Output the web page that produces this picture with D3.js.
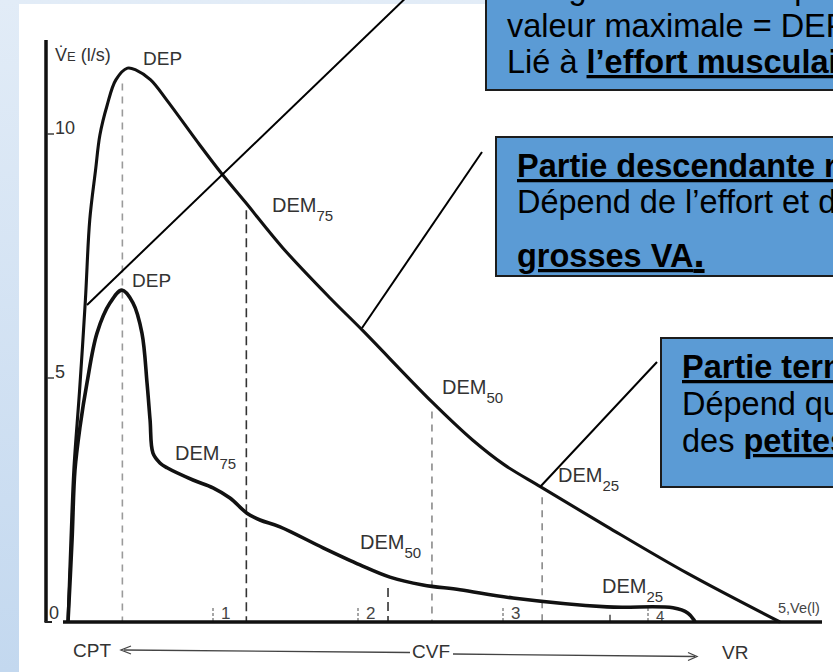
<!DOCTYPE html>
<html><head><meta charset="utf-8">
<script src="https://cdn.jsdelivr.net/npm/d3@7/dist/d3.min.js"></script>
<style>
html,body{margin:0;padding:0;background:#fff;}
svg{display:block;}
</style></head>
<body>
<svg id="c" width="833" height="672"></svg>
<script>
// ---------- DATA ----------
// Upper loop (normal subject): volume (l) vs expiratory flow (l/s)
const upperVolume = [0, 0.02, 0.04, 0.08, 0.12, 0.15, 0.19, 0.22, 0.27, 0.33, 0.41, 0.47, 0.57, 0.68, 0.91, 1.062, 1.221, 1.483, 1.807, 2.03, 2.51, 2.79, 3.01, 3.26, 3.72, 4.27, 4.91];
const upperFlow   = [0, 1.68, 3.11, 4.75, 6.6, 8.24, 9.26, 9.98, 10.59, 11.11, 11.35, 11.31, 11.11, 10.7, 9.77, 9.18, 8.61, 7.66, 6.64, 5.98, 4.51, 3.73, 3.22, 2.77, 1.95, 1.0, 0];
// Lower loop (obstructive pattern)
const lowerVolume = [0, 0.028, 0.048, 0.083, 0.131, 0.2, 0.29, 0.372, 0.448, 0.51, 0.545, 0.566, 0.586, 0.634, 0.683, 0.862, 1.0, 1.117, 1.234, 1.324, 1.462, 1.759, 2.014, 2.22, 2.448, 2.703, 3.069, 3.717, 4.172, 4.276, 4.317, 4.324];
const lowerFlow   = [0, 1.68, 3.11, 4.0, 4.9, 5.92, 6.54, 6.8, 6.54, 5.92, 4.9, 4.14, 3.46, 3.26, 3.16, 2.91, 2.75, 2.54, 2.23, 2.09, 1.95, 1.52, 1.17, 0.92, 0.76, 0.66, 0.49, 0.31, 0.29, 0.18, 0.04, 0];

// Markers (dashed verticals) : label, volume, flow at curve
const upperMarkerName   = ["DEP", "DEM", "DEM", "DEM"];
const upperMarkerSub    = ["", "75", "50", "25"];
const upperMarkerVolume = [0.375, 1.23, 2.51, 3.27];
const upperMarkerFlow   = [11.2, 8.6, 4.48, 2.72];
const lowerMarkerName   = ["DEP", "DEM", "DEM", "DEM"];
const lowerMarkerSub    = ["", "75", "50", "25"];
const lowerMarkerVolume = [0.375, 1.23, 2.207, 3.738];
const lowerMarkerFlow   = [6.75, 2.3, 0.86, 0.31];

const volumeTicks = [1, 2, 3, 4];
const flowTicks = [0, 5, 10];
const axisTitleY = "(l/s)";
const axisTitleX = "Ve(l)";
const bottomLabels = ["CPT", "CVF", "VR"];

// annotation boxes
const box1Lines = [
  [{t:"Il augmente alors rapidement jusqu’à sa", b:false}],
  [{t:"valeur maximale = DEP", b:false}],
  [{t:"Lié à ", b:false}, {t:"l’effort musculaire", b:true}]
];
const box2Lines = [
  [{t:"Partie descendante rapide", b:true}],
  [{t:"Dépend de l’effort et des", b:false}],
  [{t:"grosses VA", b:true}, {t:".", b:true, big:true}]
];
const box3Lines = [
  [{t:"Partie terminale", b:true}],
  [{t:"Dépend que", b:false}],
  [{t:"des ", b:false}, {t:"petites VA", b:true}]
];

// ---------- DRAWING ----------
const W = 833, H = 672;
const svg = d3.select("#c");
const FONT = "'Liberation Sans', Arial, Helvetica, sans-serif";

const defs = svg.append("defs");
const g1 = defs.append("linearGradient").attr("id","bg").attr("x1",0).attr("y1",0).attr("x2",0).attr("y2",1);
g1.append("stop").attr("offset","0%").attr("stop-color","#e2ecf7");
g1.append("stop").attr("offset","100%").attr("stop-color","#c3d8ef");

svg.append("rect").attr("x",0).attr("y",0).attr("width",W).attr("height",H).attr("fill","url(#bg)");
svg.append("rect").attr("x",19).attr("y",4).attr("width",W-19).attr("height",H-4).attr("fill","#ffffff");

const x = d3.scaleLinear().domain([0, 5]).range([68, 793]);
const y = d3.scaleLinear().domain([0, 10]).range([622, 134]);

// dashed markers
function markers(vols, flows, colors, dashes) {
  vols.forEach((v, i) => {
    svg.append("line")
      .attr("x1", x(v)).attr("x2", x(v))
      .attr("y1", y(flows[i]) + 8).attr("y2", y(0))
      .attr("stroke", colors[i]).attr("stroke-width", 1.6)
      .attr("stroke-dasharray", dashes[i]);
  });
}
markers(upperMarkerVolume, upperMarkerFlow, ["#9a9a9a", "#333", "#8a8a8a", "#8a8a8a"], ["7,6", "9,5", "7,6", "7,6"]);
markers(lowerMarkerVolume.slice(2), lowerMarkerFlow.slice(2), ["#333", "#555"], ["9,5", "8,5"]);

// volume ticks on baseline
volumeTicks.forEach(t => {
  svg.append("line").attr("x1", x(t)).attr("x2", x(t)).attr("y1", y(0) - 14).attr("y2", y(0))
    .attr("stroke", "#777").attr("stroke-width", 1.3).attr("stroke-dasharray", "3,2");
  svg.append("text").attr("x", x(t) + 8).attr("y", t === 4 ? y(0) - 1 : y(0) - 3)
    .attr("font-family", FONT).attr("font-size", t === 4 ? 15 : 17).attr("fill", "#444").text(t);
});
svg.append("text").attr("x", x(5) - 15).attr("y", y(0) - 9)
  .attr("font-family", FONT).attr("font-size", 14.5).attr("fill", "#444")
  .text("5," + axisTitleX);

// y axis
svg.append("line").attr("x1", 46).attr("x2", 46).attr("y1", 40).attr("y2", y(0))
  .attr("stroke", "#111").attr("stroke-width", 3.5);
svg.append("line").attr("x1", 44.5).attr("x2", 52).attr("y1", y(0)).attr("y2", y(0))
  .attr("stroke", "#222").attr("stroke-width", 2);
flowTicks.forEach(t => {
  if (t > 0) svg.append("line").attr("x1", 47).attr("x2", 54).attr("y1", y(t)).attr("y2", y(t))
    .attr("stroke", "#333").attr("stroke-width", 1.4);
  svg.append("text").attr("x", t > 0 ? 55 : 49).attr("y", t > 0 ? y(t) : y(0) - 3)
    .attr("font-family", FONT).attr("font-size", 18).attr("fill", "#333").text(t);
});
// y title  V̇E (l/s)
const yt = svg.append("text").attr("x", 55).attr("y", 61).attr("font-family", FONT)
  .attr("font-size", 18).attr("fill", "#333");
yt.append("tspan").text("V\u0307");
yt.append("tspan").attr("font-size", 13).text("E");
yt.append("tspan").text(" " + axisTitleY);

// baseline
svg.append("line").attr("x1", 63).attr("x2", 822).attr("y1", y(0)).attr("y2", y(0))
  .attr("stroke", "#111").attr("stroke-width", 3.6);

// curves
const line = d3.line().x(d => x(d[0])).y(d => y(d[1])).curve(d3.curveCatmullRom.alpha(0.5));
svg.append("path").attr("d", line(d3.zip(lowerVolume, lowerFlow)))
  .attr("fill", "none").attr("stroke", "#111").attr("stroke-width", 3.6).attr("stroke-linejoin", "round");
svg.append("path").attr("d", line(d3.zip(upperVolume, upperFlow)))
  .attr("fill", "none").attr("stroke", "#111").attr("stroke-width", 3.1).attr("stroke-linejoin", "round");

// marker labels
function label(px, py, name, sub) {
  const t = svg.append("text").attr("x", px).attr("y", py).attr("font-family", FONT)
    .attr("font-size", name === "DEP" ? 19 : 20).attr("fill", "#333");
  t.append("tspan").text(name);
  if (sub) t.append("tspan").attr("font-size", 15).attr("dy", 9).text(sub);
}
const upperLabelPos = [[143, 65], [272, 212], [442, 394], [558, 482]];
const lowerLabelPos = [[132, 287], [175, 460], [360, 549], [602, 593]];
upperMarkerName.forEach((n, i) => label(upperLabelPos[i][0], upperLabelPos[i][1], n, upperMarkerSub[i]));
lowerMarkerName.forEach((n, i) => label(lowerLabelPos[i][0], lowerLabelPos[i][1], n, lowerMarkerSub[i]));

// bottom labels and arrows
const bl = [[73, 657], [412, 658], [722, 659]];
bottomLabels.forEach((s, i) => svg.append("text").attr("x", bl[i][0]).attr("y", bl[i][1])
  .attr("font-family", FONT).attr("font-size", 19).attr("fill", "#333").text(s));
svg.append("line").attr("x1", 124).attr("y1", 650).attr("x2", 410).attr("y2", 652.5)
  .attr("stroke", "#444").attr("stroke-width", 1.3);
svg.append("path").attr("d", "M131,646 L121,650 L131,654").attr("fill", "none").attr("stroke", "#444").attr("stroke-width", 1.3);
svg.append("line").attr("x1", 453).attr("y1", 654).attr("x2", 695).attr("y2", 656.5)
  .attr("stroke", "#444").attr("stroke-width", 1.3);
svg.append("path").attr("d", "M688,652.5 L697,656.5 L688,660.5").attr("fill", "none").attr("stroke", "#444").attr("stroke-width", 1.3);

// annotation connectors
function seg(x1, y1, x2, y2) {
  svg.append("line").attr("x1", x1).attr("y1", y1).attr("x2", x2).attr("y2", y2)
    .attr("stroke", "#000").attr("stroke-width", 2);
}
seg(87, 305, 414, -10);
seg(362, 328, 482, 152);
seg(540, 487, 657, 362);

// boxes
function box(bx, by, bh, lines, baselines) {
  svg.append("rect").attr("x", bx).attr("y", by).attr("width", W - bx + 20).attr("height", bh)
    .attr("fill", "#5b9bd5").attr("stroke", "#1c1c1c").attr("stroke-width", 2);
  lines.forEach((ln, i) => {
    const t = svg.append("text").attr("x", bx + 21).attr("y", baselines[i])
      .attr("font-family", FONT).attr("font-size", 32.5).attr("fill", "#000");
    ln.forEach(p => {
      const ts = t.append("tspan").text(p.t).attr("font-weight", p.b ? "bold" : "normal");
      if (p.b) ts.style("text-decoration", "underline");
      if (p.big) ts.attr("font-size", 40);
    });
  });
}
box(486, -20, 110, box1Lines, [-1, 37, 73]);
box(496, 137, 139, box2Lines, [177, 213, 267]);
box(661, 338, 149, box3Lines, [378, 415, 452]);
</script>
</body></html>
